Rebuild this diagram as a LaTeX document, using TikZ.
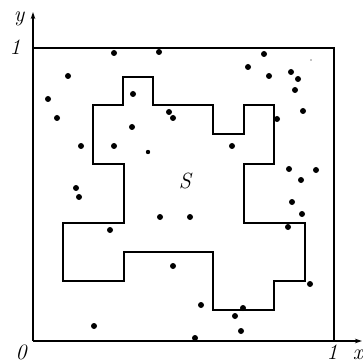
\documentclass[tikz,border=0pt]{standalone}
\usetikzlibrary{arrows.meta}
\begin{document}
\begin{tikzpicture}[x=1pt,y=-1pt,
  edge/.style={line width=1.6pt},
  axis/.style={line width=1.6pt,-{Stealth[length=7pt,width=4.5pt]}},
  pt/.style={fill=black},
  lbl/.style={font=\fontsize{22}{24}\selectfont\itshape,inner sep=0pt}]
\useasboundingbox (0,0) rectangle (363,363);
\coordinate (O) at (33,341);
\coordinate (Ytip) at (33,12);
\coordinate (Xtip) at (362,341);
\coordinate (TL) at (33,48);
\coordinate (TR) at (334,48);
\coordinate (BR) at (334,341);
\draw[axis] (O) -- (Ytip);
\draw[axis] (O) -- (Xtip);
\draw[edge] (TL) -- (TR) -- (BR);
% region S
\draw[edge] (123,77) -- (153,77) -- (153,105) -- (213,105) -- (213,134) -- (244,134)
  -- (244,105) -- (274,105) -- (274,164) -- (244,164) -- (244,223) -- (305,223)
  -- (305,281) -- (274,281) -- (274,310) -- (213,310) -- (213,252) -- (124,252)
  -- (124,281) -- (63,281) -- (63,223) -- (124,223) -- (124,164) -- (93,164)
  -- (93,105) -- (123,105) -- cycle;
% labels
\node[lbl] (ylab) at (19,19) {y};
\node[lbl] (y1) at (15,47) {1};
\node[lbl,anchor=base] (zero) at (21,359) {0};
\node[lbl,anchor=base] (x1) at (332,359) {1};
\node[lbl,anchor=base east] (xlab) at (363,359) {x};
\node[lbl] (S) at (185,181) {S};
% random points
\foreach \p in {(114,53),(159,52),(68,76),(48,99),(57,118),(133,94),(169,112),(173,118),
  (132,127),(81,146),(114,146),
  (264,54),(248,67),(269,76),(291,72),(298,79),(295,90),(303,111),(277,119),(232,146),
  (289,169),(316,170),(301,180),
  (76,188),(79,197),(160,217),(190,217),(110,230),(173,266),(94,326),
  (292,202),(302,214),(288,227),(310,284),(201,305),(243,308),(235,316),(241,331),(195,338)}
  \fill[pt] \p circle (3pt);
\fill[pt] (148,152) circle (2.2pt);
\fill[pt] (311,60) circle (0.7pt);
\end{tikzpicture}
\end{document}
